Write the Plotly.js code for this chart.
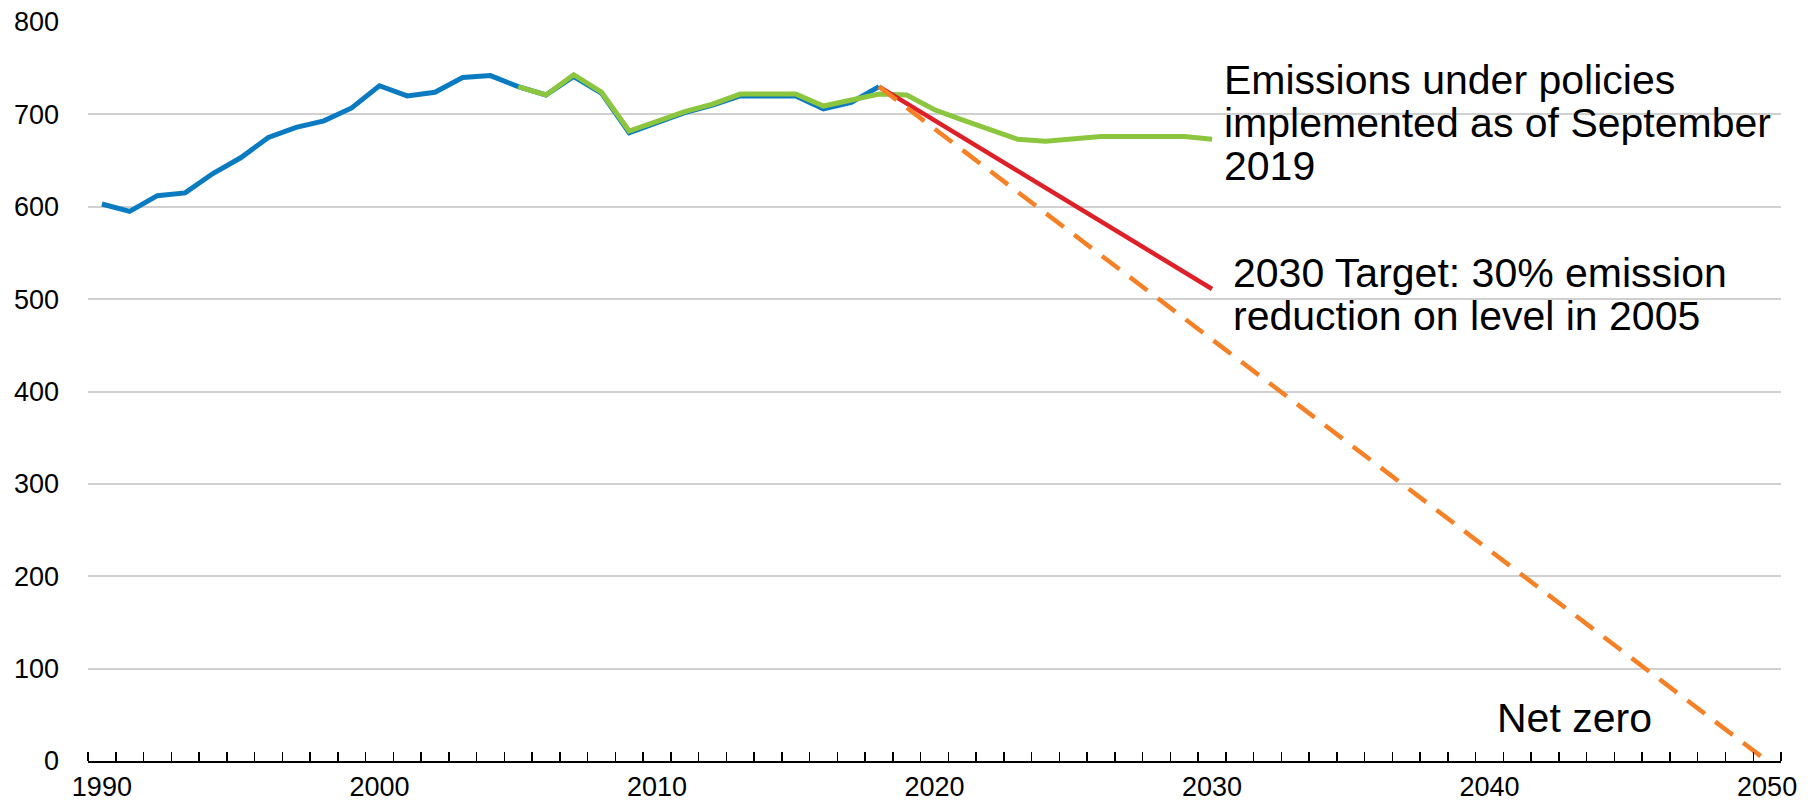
<!DOCTYPE html>
<html>
<head>
<meta charset="utf-8">
<script src="https://cdn.plot.ly/plotly-3.0.1.min.js"></script>
<style>
  html, body { margin: 0; padding: 0; background: #ffffff; }
  #chart { width: 1817px; height: 804px; }
</style>
</head>
<body>
<div id="chart"></div>
<script>
// ---- data ----
const histYears = [1990,1991,1992,1993,1994,1995,1996,1997,1998,1999,2000,2001,2002,2003,2004,2005,2006,2007,2008,2009,2010,2011,2012,2013,2014,2015,2016,2017,2018];
const histValues = [603,595,612,615,636,653,675,686,693,707,731,720,724,740,742,730,721,741,723,680,691,702,710,720,720,720,706,713,730];

const policyYears = [2005,2006,2007,2008,2009,2010,2011,2012,2013,2014,2015,2016,2017,2018,2019,2020,2021,2022,2023,2024,2025,2026,2027,2028,2029,2030];
const policyValues = [730,721,743,724,682,693,703,711,722,722,722,709,715,722,721,705,694,684,673,671,674,676,676,676,676,673];

const targetYears = [2018, 2030];
const targetValues = [730, 511];

const netZeroYears = [2018, 2050];
const netZeroValues = [730, 0];

const yTickValues = [0,100,200,300,400,500,600,700,800];
const xTickValues = [1990,2000,2010,2020,2030,2040,2050];

const policyLabel = ["Emissions under policies", "implemented as of September", "2019"];
const targetLabel = ["2030 Target: 30% emission", "reduction on level in 2005"];
const netZeroLabel = "Net zero";

// ---- chart ----
const FONT = '"Liberation Sans", Arial, sans-serif';

const traces = [
  { x: histYears, y: histValues, type: 'scatter', mode: 'lines',
    line: { color: '#0B7BC1', width: 5 }, hoverinfo: 'skip' },
  { x: policyYears, y: policyValues, type: 'scatter', mode: 'lines',
    line: { color: '#8CC63F', width: 5 }, hoverinfo: 'skip' },
  { x: targetYears, y: targetValues, type: 'scatter', mode: 'lines',
    line: { color: '#DE2128', width: 4.5 }, hoverinfo: 'skip' },
  { x: netZeroYears, y: netZeroValues, type: 'scatter', mode: 'lines',
    line: { color: '#F58025', width: 4.5, dash: '22px,13px' }, hoverinfo: 'skip' }
];

const annFont = { family: FONT, size: 41, color: '#000000' };
const annotations = [];
const policyY = [737.5, 691, 644];
policyLabel.forEach((t, i) => annotations.push({
  text: t, x: 2030.35, y: policyY[i], xref: 'x', yref: 'y',
  xanchor: 'left', yanchor: 'middle', showarrow: false, font: annFont
}));
const targetY = [528.5, 482];
targetLabel.forEach((t, i) => annotations.push({
  text: t, x: 2030.7, y: targetY[i], xref: 'x', yref: 'y',
  xanchor: 'left', yanchor: 'middle', showarrow: false, font: annFont
}));
annotations.push({
  text: netZeroLabel, x: 2040.2, y: 47, xref: 'x', yref: 'y',
  xanchor: 'left', yanchor: 'middle', showarrow: false, font: annFont
});

const layout = {
  width: 1817, height: 804,
  margin: { l: 88, r: 36, t: 22, b: 43, pad: 0 },
  paper_bgcolor: '#ffffff', plot_bgcolor: '#ffffff',
  showlegend: false,
  font: { family: FONT, size: 27, color: '#000000' },
  xaxis: {
    range: [1989.5, 2050.5],
    tickmode: 'array', tickvals: xTickValues, ticktext: xTickValues.map(String),
    ticks: '', showgrid: false, zeroline: false,
    showline: true, linecolor: '#000000', linewidth: 2,
    ticklabelstandoff: 1,
    tickfont: { family: FONT, size: 27, color: '#000000' },
    minor: { tickmode: 'linear', tick0: 1989.5, dtick: 1, ticks: 'inside',
             ticklen: 9, tickwidth: 1.5, tickcolor: '#000000', showgrid: false },
    fixedrange: true
  },
  yaxis: {
    range: [0, 800],
    tickmode: 'array', tickvals: yTickValues, ticktext: yTickValues.map(String),
    ticks: '', showgrid: true, gridcolor: '#D0D0D0', gridwidth: 2,
    zeroline: false, showline: false,
    ticklabelstandoff: 28,
    tickfont: { family: FONT, size: 27, color: '#000000' },
    fixedrange: true
  },
  annotations: annotations
};

Plotly.newPlot('chart', traces, layout, { displayModeBar: false, staticPlot: true });
</script>
</body>
</html>
